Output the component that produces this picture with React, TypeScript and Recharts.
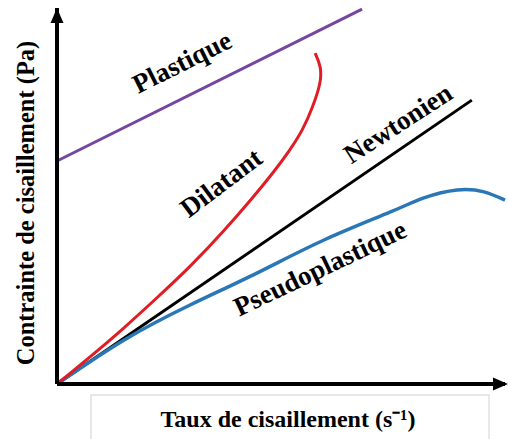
import { Line, LineChart, ReferenceDot, XAxis, YAxis } from 'recharts';

// shear rate (x) vs shear stress (y), both on an arbitrary 0-100 scale
const plastique = [
  { x: 0, y: 59.3 },
  { x: 68.1, y: 99.7 },
];

const newtonien = [
  { x: 0, y: 0 },
  { x: 92.6, y: 75.5 },
];

const dilatant = [
  { x: 0, y: 0 },
  { x: 7.4, y: 7.2 },
  { x: 15.0, y: 14.9 },
  { x: 22.3, y: 22.9 },
  { x: 29.7, y: 31.1 },
  { x: 37.3, y: 40.7 },
  { x: 43.8, y: 49.7 },
  { x: 48.2, y: 56.1 },
  { x: 52.0, y: 62.2 },
  { x: 54.9, y: 67.6 },
  { x: 57.1, y: 73.7 },
  { x: 58.9, y: 80.1 },
  { x: 59.0, y: 84.3 },
  { x: 57.6, y: 88.0 },
];

const pseudoplastique = [
  { x: 0, y: 0 },
  { x: 15.0, y: 11.7 },
  { x: 29.7, y: 21.0 },
  { x: 44.6, y: 29.5 },
  { x: 59.6, y: 38.3 },
  { x: 74.3, y: 45.7 },
  { x: 81.9, y: 49.5 },
  { x: 89.3, y: 51.6 },
  { x: 95.3, y: 51.1 },
  { x: 100, y: 48.9 },
];

const curveLabels = [
  { text: 'Plastique', x: 27.9, y: 85.6, angle: -26.5 },
  { text: 'Dilatant', x: 36.6, y: 53.5, angle: -37 },
  { text: 'Newtonien', x: 76.1, y: 69.3, angle: -33 },
  { text: 'Pseudoplastique', x: 58.7, y: 30.8, angle: -25.5 },
];

const xTitle = 'Taux de cisaillement (s⁻¹)';
const yTitle = 'Contrainte de cisaillement (Pa)';

const FONT = '"Liberation Serif", "Times New Roman", serif';

const XTitle = (props: any) => {
  const vb = props.viewBox ?? { x: 0, y: 0, width: 0, height: 0 };
  return (
    <g>
      <rect x={vb.x + 34} y={vb.y + 11} width={398} height={70} fill="none" stroke="#d0d0d0" strokeWidth={1} />
      <text x={vb.x + 231} y={vb.y + 43} textAnchor="middle" fontFamily={FONT} fontWeight="bold" fontSize={24} fill="#000">
        {xTitle}
      </text>
    </g>
  );
};

const YTitle = (props: any) => {
  const vb = props.viewBox ?? { x: 0, y: 0, width: 0, height: 0 };
  const cx = vb.x + 25;
  const cy = vb.y + vb.height / 2 + 7;
  return (
    <text
      x={cx}
      y={cy}
      transform={`rotate(-90 ${cx} ${cy})`}
      textAnchor="middle"
      dominantBaseline="central"
      fontFamily={FONT}
      fontWeight="bold"
      fontSize={24.5}
      fill="#000"
    >
      {yTitle}
    </text>
  );
};

export default function App() {
  return (
    <div style={{ position: 'absolute', left: 0, top: 0, background: '#fff' }}>
      <LineChart width={508} height={439} margin={{ top: 8, right: 3, left: 0, bottom: 0 }}>
        <XAxis
          type="number"
          dataKey="x"
          domain={[0, 100]}
          tick={false}
          tickLine={false}
          height={55}
          axisLine={{ stroke: '#000', strokeWidth: 4 }}
          label={{ content: XTitle }}
        />
        <YAxis
          type="number"
          dataKey="y"
          domain={[0, 100]}
          tick={false}
          tickLine={false}
          width={57}
          axisLine={{ stroke: '#000', strokeWidth: 4 }}
          label={{ content: YTitle }}
        />
        <Line data={plastique} dataKey="y" type="linear" stroke="#7446a0" strokeWidth={3} dot={false} activeDot={false} isAnimationActive={false} />
        <Line data={newtonien} dataKey="y" type="linear" stroke="#000" strokeWidth={3} dot={false} activeDot={false} isAnimationActive={false} />
        <Line data={pseudoplastique} dataKey="y" type="natural" stroke="#2a77b8" strokeWidth={3.5} dot={false} activeDot={false} isAnimationActive={false} />
        <Line data={dilatant} dataKey="y" type="basis" stroke="#e01d24" strokeWidth={3} dot={false} activeDot={false} isAnimationActive={false} />
        {/* axis arrowheads */}
        <ReferenceDot
          x={100}
          y={0}
          ifOverflow="visible"
          shape={(p: any) => <path d={`M${p.cx + 3},${p.cy} L${p.cx - 12},${p.cy - 6.5} L${p.cx - 12},${p.cy + 6.5} Z`} fill="#000" />}
        />
        <ReferenceDot
          x={0}
          y={100}
          ifOverflow="visible"
          shape={(p: any) => <path d={`M${p.cx},${p.cy} L${p.cx - 6.5},${p.cy + 15} L${p.cx + 6.5},${p.cy + 15} Z`} fill="#000" />}
        />
        {curveLabels.map((l) => (
          <ReferenceDot
            key={l.text}
            x={l.x}
            y={l.y}
            ifOverflow="visible"
            shape={(p: any) => (
              <text
                x={p.cx}
                y={p.cy}
                transform={`rotate(${l.angle} ${p.cx} ${p.cy})`}
                textAnchor="middle"
                dominantBaseline="central"
                fontFamily={FONT}
                fontWeight="bold"
                fontSize={27}
                fill="#000"
              >
                {l.text}
              </text>
            )}
          />
        ))}
      </LineChart>
    </div>
  );
}
